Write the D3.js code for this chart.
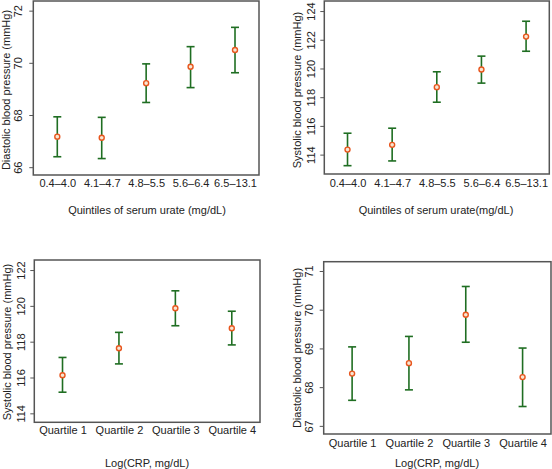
<!DOCTYPE html>
<html><head><meta charset="utf-8">
<script src="https://cdn.jsdelivr.net/npm/d3@7"></script>
<style>body{margin:0;background:#fff}svg{display:block}text{font-family:"Liberation Sans",Arial,sans-serif;fill:#222}</style>
</head><body>
<svg id="c" width="552" height="469"></svg>
<script>
const urateCats = ["0.4–4.0","4.1–4.7","4.8–5.5","5.6–6.4","6.5–13.1"];
const crpCats = ["Quartile 1","Quartile 2","Quartile 3","Quartile 4"];

const diaUrateMean = [67.17, 67.13, 69.22, 69.85, 70.49];
const diaUrateLo   = [66.40, 66.33, 68.48, 69.05, 69.62];
const diaUrateHi   = [67.93, 67.91, 69.96, 70.62, 71.36];

const sysUrateMean = [114.35, 114.68, 118.70, 119.93, 122.22];
const sysUrateLo   = [113.23, 113.56, 117.65, 118.98, 121.20];
const sysUrateHi   = [115.49, 115.84, 119.77, 120.86, 123.29];

const sysCrpMean = [116.13, 117.63, 119.87, 118.75];
const sysCrpLo   = [115.18, 116.76, 118.89, 117.82];
const sysCrpHi   = [117.12, 118.52, 120.84, 119.70];

const diaCrpMean = [68.35, 68.62, 69.87, 68.26];
const diaCrpLo   = [67.66, 67.93, 69.16, 67.50];
const diaCrpHi   = [69.04, 69.31, 70.60, 69.01];

const ticksDiaUrate = [66, 68, 70, 72];
const ticksSysUrate = [114, 116, 118, 120, 122, 124];
const ticksSysCrp = [114, 116, 118, 120, 122];
const ticksDiaCrp = [67, 68, 69, 70, 71];

const panels = [
  {cats: urateCats, mean: diaUrateMean, lo: diaUrateLo, hi: diaUrateHi, ticks: ticksDiaUrate,
   box: [33.3, 1, 259, 175], dom: [65.70, 72.37], pad: 0.54,
   ytitle: "Diastolic blood pressure (mmHg)", ytx: 6, yty: 90, tlx: 18, xly: 183, xtitle: "Quintiles of serum urate (mg/dL)", xty: 214, xtx: 147},
  {cats: urateCats, mean: sysUrateMean, lo: sysUrateLo, hi: sysUrateHi, ticks: ticksSysUrate,
   box: [324.3, 1, 549.3, 174], dom: [112.65, 124.70], pad: 0.52,
   ytitle: "Systolic blood pressure (mmHg)", ytx: 297, yty: 90, tlx: 311, xly: 183, xtitle: "Quintiles of serum urate(mg/dL)", xty: 214, xtx: 436},
  {cats: crpCats, mean: sysCrpMean, lo: sysCrpLo, hi: sysCrpHi, ticks: ticksSysCrp,
   box: [34.3, 260, 260, 422.3], dom: [113.50, 122.56], pad: 0.5,
   ytitle: "Systolic blood pressure (mmHg)", ytx: 7, yty: 342, tlx: 21, xly: 430, xtitle: "Log(CRP, mg/dL)", xty: 467, xtx: 147},
  {cats: crpCats, mean: diaCrpMean, lo: diaCrpLo, hi: diaCrpHi, ticks: ticksDiaCrp,
   box: [323.7, 261.7, 551, 434], dom: [66.79, 71.24], pad: 0.5,
   ytitle: "Diastolic blood pressure (mmHg)", ytx: 297, yty: 348, tlx: 309, xly: 443, xtitle: "Log(CRP, mg/dL)", xty: 467, xtx: 437}
];

const svg = d3.select("#c");
const green = "#1f6e22", orange = "#e8561e", axisCol = "#555";
const fs = "11px";

panels.forEach(p => {
  const [x0, y0, x1, y1] = p.box;
  const x = d3.scalePoint().domain(p.cats).range([x0, x1]).padding(p.pad);
  const y = d3.scaleLinear().domain(p.dom).range([y1, y0]);
  const g = svg.append("g");

  const ya = g.append("g").attr("transform", `translate(${x0},0)`)
    .call(d3.axisLeft(y).tickValues(p.ticks).tickSize(4).tickFormat(d3.format("d")));
  ya.select(".domain").remove();
  ya.selectAll(".tick line").attr("stroke", axisCol).attr("stroke-width", 1);
  ya.selectAll(".tick text").attr("x", null).attr("dy", null)
    .attr("transform", `translate(${p.tlx - x0},0) rotate(-90)`)
    .attr("text-anchor", "middle").attr("dominant-baseline", "central")
    .style("font-size", fs).style("fill", "#222");

  g.append("rect").attr("x", x0).attr("y", y0).attr("width", x1 - x0).attr("height", y1 - y0)
    .attr("fill", "none").attr("stroke", axisCol).attr("stroke-width", 1.5);

  const xa = g.append("g").attr("transform", `translate(0,${y1})`)
    .call(d3.axisBottom(x).tickSize(0));
  xa.select(".domain").remove();
  xa.selectAll(".tick text").attr("y", p.xly - y1).attr("dy", "0.35em")
    .style("font-size", fs).style("fill", "#222");

  g.append("text").attr("transform", `translate(${p.ytx},${p.yty}) rotate(-90)`)
    .attr("text-anchor", "middle").attr("dominant-baseline", "central")
    .style("font-size", fs).text(p.ytitle);
  g.append("text").attr("x", p.xtx).attr("y", p.xty).attr("text-anchor", "middle")
    .style("font-size", fs).text(p.xtitle);

  const rows = p.cats.map((c, i) => ({c, m: p.mean[i], lo: p.lo[i], hi: p.hi[i]}));
  const eb = g.append("g").attr("stroke", green).attr("stroke-width", 1.6).attr("fill", "none");
  eb.selectAll(".v").data(rows).join("line")
    .attr("x1", d => x(d.c)).attr("x2", d => x(d.c)).attr("y1", d => y(d.lo)).attr("y2", d => y(d.hi));
  eb.selectAll(".t").data(rows).join("line")
    .attr("x1", d => x(d.c) - 4).attr("x2", d => x(d.c) + 4).attr("y1", d => y(d.hi)).attr("y2", d => y(d.hi));
  eb.selectAll(".b").data(rows).join("line")
    .attr("x1", d => x(d.c) - 4).attr("x2", d => x(d.c) + 4).attr("y1", d => y(d.lo)).attr("y2", d => y(d.lo));
  g.selectAll(".pt").data(rows).join("circle")
    .attr("cx", d => x(d.c)).attr("cy", d => y(d.m)).attr("r", 2.5)
    .attr("fill", "#f6e6d2").attr("stroke", orange).attr("stroke-width", 1.4);
});
</script>
</body></html>
